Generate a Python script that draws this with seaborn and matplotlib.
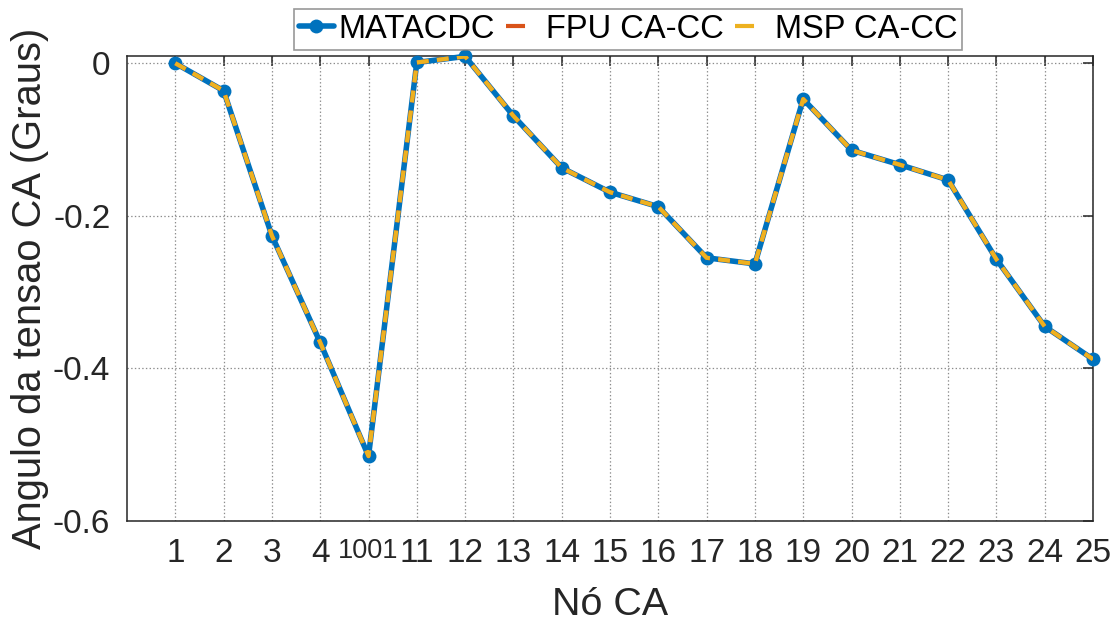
import numpy as np
import matplotlib
matplotlib.use("Agg")
import matplotlib.pyplot as plt
import seaborn as sns
from matplotlib.lines import Line2D

# ---- data ----
nodes = ["1", "2", "3", "4", "1001", "11", "12", "13", "14", "15", "16",
         "17", "18", "19", "20", "21", "22", "23", "24", "25"]
matacdc = [0.000, -0.036, -0.226, -0.366, -0.515, 0.001, 0.009, -0.069,
           -0.137, -0.169, -0.188, -0.255, -0.263, -0.047, -0.114, -0.133,
           -0.153, -0.257, -0.345, -0.388]
fpu = list(matacdc)
msp = list(matacdc)
series_labels = ["MATACDC", "FPU CA-CC", "MSP CA-CC"]
yticks = [-0.6, -0.4, -0.2, 0.0]
ytick_labels = ["-0.6", "-0.4", "-0.2", "0"]

# ---- style ----
sns.set_style("white")
plt.rcParams["font.family"] = ["Liberation Sans", "DejaVu Sans"]
plt.rcParams["lines.scale_dashes"] = False

BLUE = "#0072BD"
ORANGE = "#D95319"
YELLOW = "#EDB120"
TXT = "#262626"

fig = plt.figure(figsize=(11.2, 6.26), dpi=100)
ax = fig.add_axes([127 / 1120, 1 - 521 / 626, (1093 - 127) / 1120, (521 - 56) / 626])

pos = np.arange(1, len(nodes) + 1)

sns.lineplot(x=pos, y=matacdc, ax=ax, color=BLUE, linewidth=4.0, marker="o",
             markersize=10, markeredgewidth=0, legend=False, clip_on=False,
             zorder=3)
sns.lineplot(x=pos, y=fpu, ax=ax, color=ORANGE, linewidth=3.0,
             linestyle=(0, (8.5, 6)), legend=False, zorder=4)
sns.lineplot(x=pos, y=msp, ax=ax, color=YELLOW, linewidth=3.0,
             linestyle=(0, (8.5, 6)), legend=False, zorder=5)

ax.set_xlim(0, 20)
ax.set_ylim(-0.6, 0.0095)
ax.set_xticks(pos)
ax.set_xticklabels(nodes)
ax.set_yticks(yticks)
ax.set_yticklabels(ytick_labels)

ax.grid(True, linestyle=":", color="#8c8c8c", linewidth=0.9)
ax.set_axisbelow(True)
for s in ax.spines.values():
    s.set_color(TXT)
    s.set_linewidth(1.1)
    s.set_visible(True)

ax.tick_params(direction="in", length=7, width=1.1, top=True, right=True,
               labelsize=24, labelcolor=TXT, color=TXT, pad=12)
# the long "1001" label crowds its neighbours; shrink it slightly
for lbl in ax.get_xticklabels():
    if len(lbl.get_text()) > 2:
        lbl.set_fontsize(19.5)

ax.set_xlabel("Nó CA", fontsize=28.4, color=TXT, labelpad=13)
ax.set_ylabel("Angulo da tensao CA (Graus)", fontsize=28.7, color=TXT, labelpad=3)

handles = [
    Line2D([], [], color=BLUE, lw=4.0, marker="o", markersize=10, mew=0),
    Line2D([], [], color=ORANGE, lw=3.0, linestyle=(0, (13.7, 30))),
    Line2D([], [], color=YELLOW, lw=3.0, linestyle=(0, (13.7, 30))),
]
leg = fig.legend(handles, series_labels, loc="upper left",
                 bbox_to_anchor=(294 / 1120, 1 - 9 / 626), ncol=3,
                 fontsize=23.5, handlelength=1.07, handletextpad=0.15,
                 columnspacing=0.34, frameon=True, fancybox=False,
                 borderpad=0.15, borderaxespad=0)
leg.get_frame().set_edgecolor("#7f7f7f")
leg.get_frame().set_linewidth(1.2)
for t in leg.get_texts():
    t.set_color("black")

fig.savefig("out.png", dpi=100)
